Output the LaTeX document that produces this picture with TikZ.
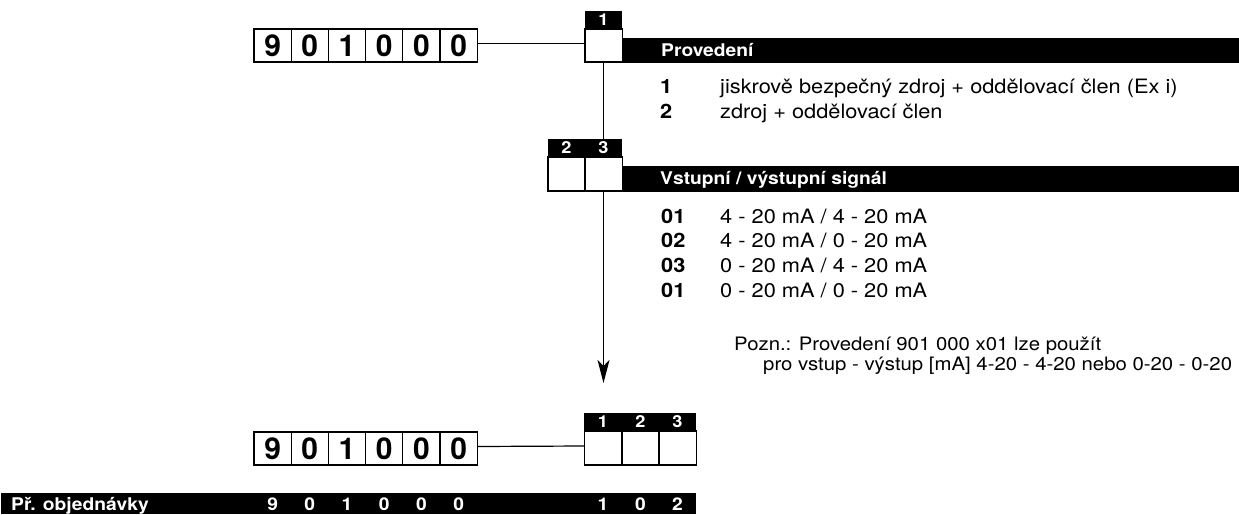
\documentclass[tikz,border=0pt]{standalone}
\usepackage{fontspec}
\setmainfont{TeX Gyre Heros}[FakeStretch=1.1]
\newfontfamily\digfont{TeX Gyre Heros}
\usetikzlibrary{arrows.meta}
\tikzset{
  cell/.style={draw=black, line width=1.2pt, fill=white, minimum width=37.2pt, minimum height=33pt, inner sep=0pt,
    font=\digfont\bfseries\fontsize{30}{30}\selectfont},
  ecell/.style={draw=black, line width=1.2pt, fill=white, minimum width=37.2pt, minimum height=34pt, inner sep=0pt},
  hdr/.style={fill=black, text=white, minimum width=37.6pt, minimum height=18pt, inner sep=0pt,
    font=\bfseries\fontsize{16.5}{16.5}\selectfont},
  conn/.style={line width=1.2pt},
  bartxt/.style={anchor=base west, text=white, inner sep=0pt, font=\bfseries\fontsize{17.5}{20}\selectfont},
  item/.style={anchor=base west, inner sep=0pt, font=\fontsize{19.8}{23}\selectfont},
  itemb/.style={anchor=base west, inner sep=0pt, font=\bfseries\fontsize{19.8}{23}\selectfont},
  note/.style={anchor=base west, inner sep=0pt, font=\fontsize{18.5}{22}\selectfont},
  ordtxt/.style={anchor=base, text=white, inner sep=0pt, font=\bfseries\fontsize{17.5}{20}\selectfont},
}
\begin{document}
\begin{tikzpicture}[x=1pt,y=-1pt]
\useasboundingbox (0,0) rectangle (1239,514);
% black bars
\fill (622,38) rectangle (1239,63);
\fill (622,166) rectangle (1239,192);
\fill (1,493) rectangle (696,514);
% top row of code cells
\foreach \d [count=\i] in {9,0,1,0,0,0} {
  \node[cell] (a\i) at ({254+18.6+(\i-1)*37.2},45.5) {\d};
}
% position 1
\node[ecell, minimum height=33pt] (b1) at (603.5,45.5) {};
\node[hdr] (hb1) at (603.5,20) {1};
% positions 2,3
\node[ecell] (c2) at (566.5,174) {};
\node[ecell] (c3) at (603.5,174) {};
\node[hdr] (hc2) at (566.5,148) {2};
\node[hdr] (hc3) at (603.5,148) {3};
\coordinate (tip) at (603.5,383);
% bottom row of code cells
\foreach \d [count=\i] in {9,0,1,0,0,0} {
  \node[cell] (d\i) at ({254+18.6+(\i-1)*37.2},448.5) {\d};
}
\node[ecell] (e1) at (603,448) {};
\node[ecell] (e2) at (640.5,448) {};
\node[ecell] (e3) at (677.5,448) {};
\node[hdr] (he1) at (603,422) {1};
\node[hdr] (he2) at (640.5,422) {2};
\node[hdr] (he3) at (677.5,422) {3};
% connectors
\draw[conn] ([yshift=2pt]a6.east) -- ([yshift=2pt]b1.west);
\draw[conn] (b1.south) -- (hc3.north);
\draw[conn, -{Stealth[length=23pt,width=12pt,inset=6pt]}] (c3.south) -- (tip);
\draw[conn] ([yshift=2pt]d6.east) -- ([yshift=2pt]e1.west);
% headings
\node[bartxt] (t1) at (661,56.5) {Provedení};
\node[bartxt] (t2) at (660,184.5) {Vstupní / výstupní signál};
% list 1
\node[itemb] (n1) at (660,93) {1};
\node[item] (l1) at (720,93) {jiskrově bezpečný zdroj + oddělovací člen (Ex i)};
\node[itemb] (n2) at (660,118) {2};
\node[item] (l2) at (720,118) {zdroj + oddělovací člen};
% list 2
\node[itemb] (s1) at (661,223) {01};
\node[item] (v1) at (720,223) {4 - 20 mA / 4 - 20 mA};
\node[itemb] (s2) at (661,247.7) {02};
\node[item] (v2) at (720,247.7) {4 - 20 mA / 0 - 20 mA};
\node[itemb] (s3) at (661,272.3) {03};
\node[item] (v3) at (720,272.3) {0 - 20 mA / 4 - 20 mA};
\node[itemb] (s4) at (661,297) {01};
\node[item] (v4) at (720,297) {0 - 20 mA / 0 - 20 mA};
% note
\node[note] (p1) at (734,350) {Pozn.: Provedení 901 000 x01 lze použít};
\node[note] (p2) at (763,370) {pro vstup - výstup [mA] 4-20 - 4-20 nebo 0-20 - 0-20};
% order example bar
\node[bartxt] (ord) at (11,510) {Př. objednávky};
\foreach \d [count=\i] in {9,0,1,0,0,0} {
  \node[ordtxt] (o\i) at ({254+18.6+(\i-1)*37.2},510) {\d};
}
\node[ordtxt] (q1) at (603,510) {1};
\node[ordtxt] (q2) at (640.5,510) {0};
\node[ordtxt] (q3) at (677.5,510) {2};
\end{tikzpicture}
\end{document}
